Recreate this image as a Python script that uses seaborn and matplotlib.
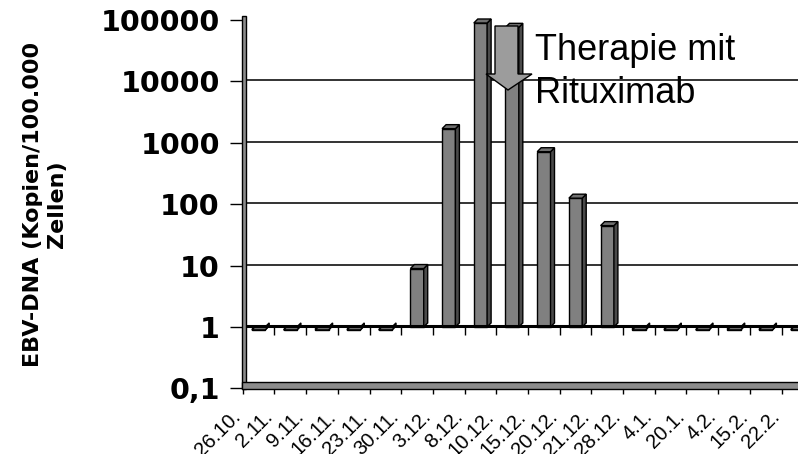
import matplotlib
matplotlib.use("Agg")
import matplotlib.pyplot as plt
import seaborn as sns
import pandas as pd
from matplotlib.patches import Polygon, Rectangle
from matplotlib.ticker import FixedLocator, NullLocator
from matplotlib.transforms import ScaledTranslation

# EBV-DNA load per sampling date
dates = ["26.10.", "2.11.", "9.11.", "16.11.", "23.11.", "30.11.", "3.12.", "8.12.",
         "10.12.", "15.12.", "20.12.", "21.12.", "28.12.", "4.1.", "20.1.", "4.2.",
         "15.2.", "22.2."]
copies = [1, 1, 1, 1, 1, 10, 1900, 100000, 85000, 800, 140, 50, 1, 1, 1, 1, 1, 1]

y_ticks = [0.1, 1, 10, 100, 1000, 10000, 100000]
y_tick_labels = ["0,1", "1", "10", "100", "1000", "10000", "100000"]
y_title = "EBV-DNA (Kopien/100.000\nZellen)"
note = "Therapie mit\nRituximab"

BAR_FRONT = "#808080"
BAR_SIDE = "#4a4a4a"
BAR_TOP = "#707070"
ARROW_FILL = "#9c9c9c"
FLOOR_FILL = "#8c8c8c"

W, H, DPI = 798, 454, 100

sns.set_style("white")
plt.rcParams["font.family"] = ["DejaVu Sans"]
for key in ("text.color", "axes.labelcolor", "xtick.color", "ytick.color"):
    plt.rcParams[key] = "black"

fig = plt.figure(figsize=(W / DPI, H / DPI), dpi=DPI)


def fx(x):
    return x / W


def fy(y):
    return 1 - y / H


# plot area: categories start at the front wall, values span 0,1 .. 100000
cat_px = 31.7
left, top, bottom = 242.7, 20.0, 388.3
right = left + cat_px * len(dates)
ax = fig.add_axes([fx(left), fy(bottom), (right - left) / W, (bottom - top) / H])
ax.set_yscale("log")

df = pd.DataFrame({"Datum": dates, "Kopien": copies})
sns.barplot(data=df, x="Datum", y="Kopien", order=dates, color=BAR_FRONT,
            saturation=1, width=0.42, edgecolor="black", linewidth=1.0,
            errorbar=None, ax=ax, zorder=3)

ax.set_xlim(-0.5, len(dates) - 0.5)
ax.set_ylim(0.1, 100000)

fig.canvas.draw()
px_per_cat = ax.bbox.width / len(dates)
px_per_dec = ax.bbox.height / 6
dx = 4.0 / px_per_cat
front = 10 ** (3.0 / px_per_dec)   # front face sits slightly in front of the wall
back = 10 ** (1.0 / px_per_dec)    # rear edge of the bar top

# value axis crosses the category axis at 1: bars grow from there
for patch in ax.patches:
    top_val = patch.get_y() + patch.get_height()
    patch.set_y(1)
    patch.set_height(top_val / front - 1)

# 3D look: darker right side and a top face for each bar
for patch in list(ax.patches):
    x0 = patch.get_x()
    x1 = x0 + patch.get_width()
    y0 = patch.get_y()
    y1 = y0 + patch.get_height()
    r = front * back
    side = Polygon([(x1, y0), (x1 + dx, y0 * r), (x1 + dx, y1 * r), (x1, y1)],
                   closed=True, fc=BAR_SIDE, ec="black", lw=1.0, zorder=3,
                   clip_on=False)
    lid = Polygon([(x0, y1), (x1, y1), (x1 + dx, y1 * r), (x0 + dx, y1 * r)],
                  closed=True, fc=BAR_TOP, ec="black", lw=1.0, zorder=3,
                  clip_on=False)
    ax.add_patch(side)
    ax.add_patch(lid)

# gridlines on the back wall
wall = ScaledTranslation(0, 1.0 / DPI, fig.dpi_scale_trans)
for t in y_ticks[2:]:
    gl = ax.axhline(t, color="#111111", lw=1.2, zorder=1)
    gl.set_transform(gl.get_transform() + wall)
base = ax.axhline(1, color="black", lw=2.2, zorder=4)
base.set_transform(base.get_transform() + wall)

# category ticks along the crossing line at 1
bounds = [i - 0.5 for i in range(1, len(dates) + 1)]
ax.plot(bounds, [1] * len(bounds), ls="none", marker=3, ms=6, mew=1.0,
        color="black", zorder=4, clip_on=False)

for s in ax.spines.values():
    s.set_visible(False)

# value axis
ax.yaxis.set_major_locator(FixedLocator(y_ticks))
ax.yaxis.set_minor_locator(NullLocator())
ax.set_yticklabels(y_tick_labels, fontsize=20.5, fontweight="bold",
                   family=["DejaVu Sans"])
ax.tick_params(axis="y", which="major", left=True, direction="out",
               length=9.5, width=1.0, pad=7, colors="black")
ax.set_ylabel("")

# category axis: marks on the boundaries, labels per date
ax.set_xticks(range(len(dates)))
ax.set_xticklabels(dates, rotation=45, ha="right", va="baseline",
                   rotation_mode="anchor", fontsize=14.5,
                   family=["Liberation Sans"])
ax.xaxis.set_minor_locator(FixedLocator([i - 0.5 for i in range(len(dates) + 1)]))
ax.tick_params(axis="x", which="major", bottom=True, length=0, pad=21)
ax.tick_params(axis="x", which="minor", bottom=True, direction="out",
               length=4.5, width=1.0, color="black")
ax.set_xlabel("")
shift = ScaledTranslation(-17 / DPI, 0, fig.dpi_scale_trans)
for lab in ax.get_xticklabels():
    lab.set_transform(lab.get_transform() + shift)

# left wall and floor of the chart box
fig.add_artist(Rectangle((fx(241.7), fy(389)), 4.0 / W, 373 / H,
                         transform=fig.transFigure, fc=FLOOR_FILL, ec="black",
                         lw=1.0, zorder=2))
fig.add_artist(Rectangle((fx(241.7), fy(389)), (W + 10 - 241.7) / W, 7 / H,
                         transform=fig.transFigure, fc=FLOOR_FILL, ec="black",
                         lw=1.0, zorder=2))

# therapy marker: block arrow pointing down onto the 10.12. sample
arrow = [(495, 26), (518, 26), (518, 74), (532, 74), (508, 90), (486, 74),
         (495, 74)]
fig.add_artist(Polygon([(fx(x), fy(y)) for x, y in arrow], closed=True,
                       transform=fig.transFigure, fc=ARROW_FILL, ec="black",
                       lw=1.0, zorder=3))
fig.text(fx(535), fy(33), note, fontsize=26, family=["Liberation Sans"],
         ha="left", va="top", linespacing=1.3, color="black")

fig.text(fx(45), fy(204), y_title, rotation=90, ha="center", va="center",
         multialignment="center", fontsize=16, fontweight="bold",
         family=["DejaVu Sans"], linespacing=1.25, color="black")

fig.savefig("out.png", dpi=DPI)
